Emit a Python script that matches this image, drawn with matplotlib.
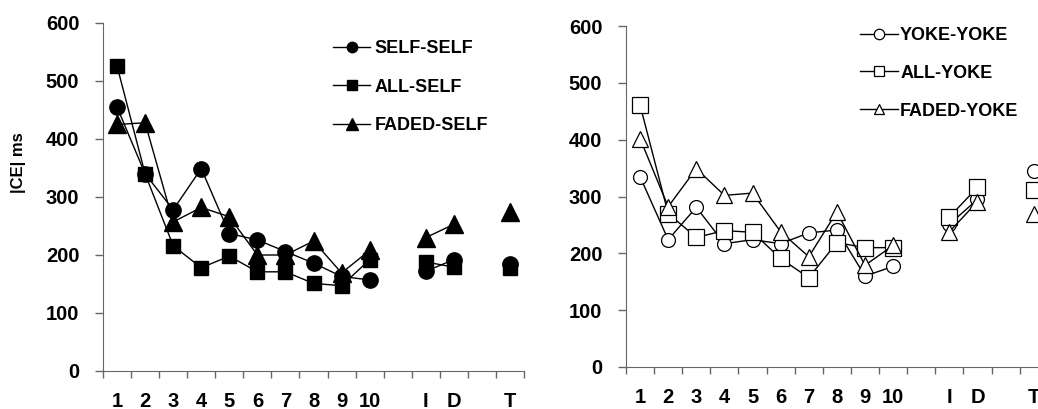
import numpy as np
import matplotlib
matplotlib.use('Agg')
import matplotlib.pyplot as pl
from matplotlib.lines import Line2D

output_fn = 'out.png'

# Categories on the x axis (blank slots separate the blocks)
categories = ['1', '2', '3', '4', '5', '6', '7', '8', '9', '10', '', 'I', 'D', '', 'T']
nan = np.nan

# Left panel: |CE| ms for the SELF groups
self_self = [455, 340, 278, 349, 237, 226, 206, 186, 163, 157, nan, 172, 192, nan, 185]
all_self = [526, 340, 216, 178, 198, 171, 171, 151, 147, 192, nan, 188, 179, nan, 178]
faded_self = [425, 428, 257, 282, 266, 200, 200, 224, 169, 208, nan, 230, 253, nan, 274]

# Right panel: |CE| ms for the YOKE groups
yoke_yoke = [335, 224, 281, 217, 224, 217, 236, 241, 160, 177, nan, 251, 295, nan, 345]
all_yoke = [461, 270, 228, 240, 237, 191, 157, 219, 210, 210, nan, 264, 316, nan, 311]
faded_yoke = [402, 282, 349, 302, 306, 238, 194, 273, 179, 214, nan, 238, 291, nan, 270]

pl.rcParams['font.family'] = ['Liberation Sans', 'DejaVu Sans']
pl.rcParams['font.weight'] = 'bold'

W, H = 1038, 409
fig = pl.figure(figsize=(W / 100., H / 100.), dpi=100)

AXIS_COLOR = '#666666'
TICK_SIZE = 14.5
x = np.arange(len(categories))


def px_axes(left, top, right, bottom):
    return fig.add_axes([left / W, 1 - bottom / H, (right - left) / W, (bottom - top) / H])


def style(ax):
    ax.set_xlim(-0.5, len(categories) - 0.5)
    ax.set_ylim(0, 600)
    ax.set_yticks(range(0, 601, 100))
    # Ticks at category boundaries, labels at centres
    ax.set_xticks(np.arange(-0.5, len(categories) + 0.5, 1.0))
    ax.set_xticklabels([])
    ax.set_xticks(x, minor=True)
    ax.set_xticklabels(categories, minor=True)
    ax.tick_params(axis='x', which='major', direction='out', length=5,
                   width=1, color=AXIS_COLOR)
    ax.tick_params(axis='x', which='minor', length=0, pad=15, labelsize=TICK_SIZE)
    ax.tick_params(axis='y', direction='out', length=6, width=1,
                   color=AXIS_COLOR, pad=11, labelsize=TICK_SIZE)
    for lab in ax.get_xticklabels(minor=True) + ax.get_yticklabels():
        lab.set_fontweight('bold')
    # Disable spines
    ax.spines['right'].set_visible(False)
    ax.spines['top'].set_visible(False)
    ax.spines['left'].set_color(AXIS_COLOR)
    ax.spines['bottom'].set_color(AXIS_COLOR)
    ax.patch.set_visible(False)


# Left panel
ax = px_axes(103, 23, 103 + 15 * 28.07, 371)
ax.plot(x, self_self, color='k', lw=1, marker='o', ms=11, clip_on=False)
ax.plot(x, all_self, color='k', lw=1, marker='s', ms=10.3, clip_on=False)
ax.plot(x, faded_self, color='k', lw=1, marker='^', ms=12.5, clip_on=False)
style(ax)
handles = [Line2D([], [], color='k', lw=1, marker='o', ms=7.5),
           Line2D([], [], color='k', lw=1, marker='s', ms=7),
           Line2D([], [], color='k', lw=1, marker='^', ms=8)]
fig.legend(handles, ['SELF-SELF', 'ALL-SELF', 'FADED-SELF'],
           loc='upper left', bbox_to_anchor=(333. / W, 1 - 40. / H),
           frameon=False, borderpad=0, borderaxespad=0, handlelength=2.05,
           handletextpad=0.25, labelspacing=1.2, prop={'size': 13, 'weight': 'bold'})
fig.text(19. / W, 1 - 163. / H, '|CE| ms', rotation=90, ha='center', va='center',
         fontsize=12, fontweight='bold')

# Right panel
ax = px_axes(626, 26, 626 + 15 * 28.12, 367)
ax.plot(x, yoke_yoke, color='k', lw=1, marker='o', ms=10, mfc='white', mew=0.9, clip_on=False)
ax.plot(x, all_yoke, color='k', lw=1, marker='s', ms=11, mfc='white', mew=0.9, clip_on=False)
ax.plot(x, faded_yoke, color='k', lw=1, marker='^', ms=11, mfc='white', mew=0.9, clip_on=False)
style(ax)
handles = [Line2D([], [], color='k', lw=1, marker='o', ms=7.5, mfc='white', mew=0.9),
           Line2D([], [], color='k', lw=1, marker='s', ms=6.5, mfc='white', mew=0.9),
           Line2D([], [], color='k', lw=1, marker='^', ms=7, mfc='white', mew=0.9)]
fig.legend(handles, ['YOKE-YOKE', 'ALL-YOKE', 'FADED-YOKE'],
           loc='upper left', bbox_to_anchor=(860. / W, 1 - 27. / H),
           frameon=False, borderpad=0, borderaxespad=0, handlelength=2.1,
           handletextpad=0.12, labelspacing=1.15, prop={'size': 13, 'weight': 'bold'})

pl.savefig(output_fn, dpi=100)
pl.close()
